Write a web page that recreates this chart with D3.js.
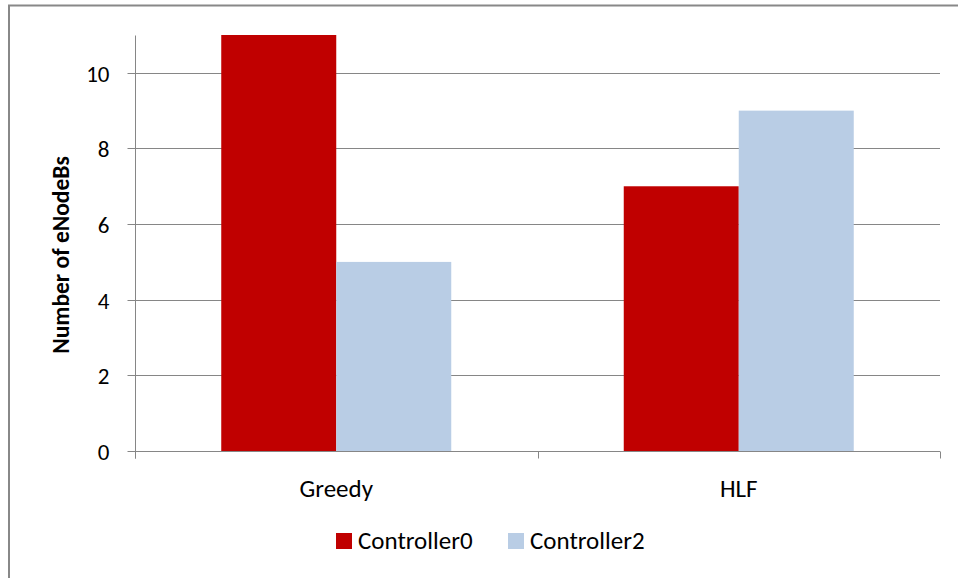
<!DOCTYPE html>
<html>
<head>
<meta charset="utf-8">
<script src="https://cdn.jsdelivr.net/npm/d3@7"></script>
<style>
  html, body { margin: 0; padding: 0; background: #fff; }
  svg { display: block; }
  text { font-family: Carlito, Calibri, Lato, "Open Sans", sans-serif; fill: #000; }
</style>
</head>
<body>
<svg id="chart" width="958" height="578"></svg>
<script>
const categories = ["Greedy", "HLF"];
const seriesNames = ["Controller0", "Controller2"];
const controller0 = [11, 7];
const controller2 = [5, 9];
const yTicks = [0, 2, 4, 6, 8, 10];
const yTitle = "Number of eNodeBs";
const colors = ["#C00000", "#B9CDE5"];

const seriesValues = [controller0, controller2];
const svg = d3.select("#chart");
const plot = { left: 135, right: 940, top: 35, bottom: 451 };
const gridColor = "#868686";
const labelSize = 25;
const tickSize = 23;
const titleSize = 23.5;

// outer border (clipped by window on right/bottom)
svg.append("rect")
  .attr("x", 9).attr("y", 5.5)
  .attr("width", 960).attr("height", 600)
  .attr("fill", "#fff").attr("stroke", "#888").attr("stroke-width", 2);

const x0 = d3.scaleBand().domain(categories).range([plot.left, plot.right]).padding(0);
const x1 = d3.scaleBand().domain(seriesNames).range([0, x0.bandwidth()]).paddingInner(0).paddingOuter(0.75);
const y = d3.scaleLinear().domain([0, 11]).range([plot.bottom, plot.top]);

// gridlines
svg.append("g").selectAll("line").data(yTicks.filter(d => d > 0)).join("line")
  .attr("x1", plot.left).attr("x2", plot.right)
  .attr("y1", d => Math.round(y(d)) + 0.5).attr("y2", d => Math.round(y(d)) + 0.5)
  .attr("stroke", gridColor).attr("stroke-width", 1);

// bars
const rows = categories.map((c, i) => ({ cat: c, vals: seriesNames.map((s, j) => ({ s, j, v: seriesValues[j][i] })) }));
svg.append("g").selectAll("g").data(rows).join("g")
  .attr("transform", d => `translate(${x0(d.cat)},0)`)
  .selectAll("rect").data(d => d.vals).join("rect")
  .attr("x", d => x1(d.s)).attr("width", x1.bandwidth())
  .attr("y", d => y(d.v)).attr("height", d => y(0) - y(d.v))
  .attr("fill", d => colors[d.j]);

// y axis
const yAxis = d3.axisLeft(y).tickValues(yTicks).tickSize(8).tickPadding(18).tickFormat(d3.format("d"));
const gy = svg.append("g").attr("transform", `translate(${plot.left + 0.5},0.5)`).call(yAxis);
gy.select(".domain").attr("stroke", gridColor).attr("d", `M0,${plot.top}V${plot.bottom + 7}`);
gy.selectAll(".tick line").attr("stroke", gridColor);
gy.selectAll(".tick text").attr("font-size", tickSize).attr("font-family", null).attr("dy", "0.36em");
gy.selectAll(".tick").attr("transform", d => `translate(0,${Math.round(y(d))})`);

// x axis
const gx = svg.append("g").attr("transform", `translate(0,${Math.round(y(0)) + 0.5})`);
gx.append("line").attr("x1", plot.left).attr("x2", plot.right).attr("stroke", gridColor);
const xTickPos = [plot.left, ...categories.slice(1).map(c => x0(c)), plot.right];
gx.selectAll("line.tk").data(xTickPos).join("line").attr("class", "tk")
  .attr("x1", d => Math.round(d) + 0.5).attr("x2", d => Math.round(d) + 0.5)
  .attr("y1", 0).attr("y2", 7).attr("stroke", gridColor);
gx.selectAll("text").data(categories).join("text")
  .attr("x", d => x0(d) + x0.bandwidth() / 2).attr("y", 45)
  .attr("text-anchor", "middle").attr("font-size", labelSize).text(d => d);

// y title
svg.append("text")
  .attr("transform", `translate(69,255) rotate(-90)`)
  .attr("text-anchor", "middle").attr("font-size", titleSize).attr("font-weight", "bold")
  .text(yTitle);

// legend
const legendX = [336, 508];
const lg = svg.append("g").selectAll("g").data(seriesNames).join("g")
  .attr("transform", (d, i) => `translate(${legendX[i]},533)`);
lg.append("rect").attr("width", 16).attr("height", 16).attr("fill", (d, i) => colors[i]);
lg.append("text").attr("x", 22).attr("y", 16).attr("font-size", labelSize).text(d => d);
</script>
</body>
</html>
